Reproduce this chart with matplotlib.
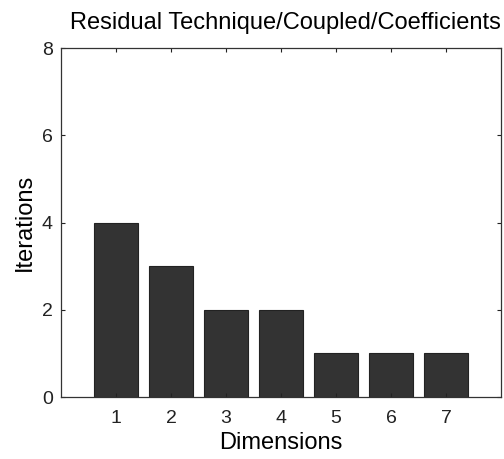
import numpy as np
import matplotlib
matplotlib.use('Agg')
import matplotlib.pyplot as plt

# iterations needed per number of dimensions
dims  = [1, 2, 3, 4, 5, 6, 7]
iters = [4, 3, 2, 2, 1, 1, 1]

plt.rcParams['font.family'] = ['Liberation Sans', 'DejaVu Sans']

fig = plt.figure(figsize=(5.04, 4.59), dpi=100)
ax = fig.add_axes([0.121, 0.135, 0.873, 0.760])

ax.bar(dims, iters, width=0.8, color='#333333', edgecolor='#222222', linewidth=0.8)

ax.set_xlim(0, 8)
ax.set_ylim(0, 8)
ax.set_xticks(dims)
ax.set_yticks([0, 2, 4, 6, 8])
ax.tick_params(direction='in', top=True, right=True, length=3, width=0.8,
               colors='#222222', labelsize=14)
ax.tick_params(axis='x', pad=9)
ax.tick_params(axis='y', pad=6)
for s in ax.spines.values():
  s.set_linewidth(0.9)
  s.set_color('#333333')

ax.set_xlabel('Dimensions', fontsize=17, labelpad=4)
ax.set_ylabel('Iterations', fontsize=17, labelpad=4)
ax.set_title('Residual Technique/Coupled/Coefficients', fontsize=17, pad=14, x=0.51)

fig.savefig('out.png', dpi=100)
